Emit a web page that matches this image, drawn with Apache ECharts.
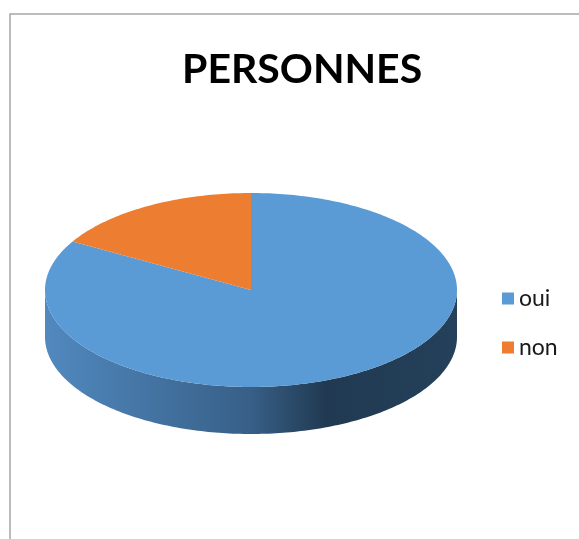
<!DOCTYPE html>
<html>
<head>
<meta charset="utf-8">
<script src="https://cdn.jsdelivr.net/npm/echarts@6/dist/echarts.min.js"></script>
<style>
  html, body { margin: 0; padding: 0; background: #fff; }
  #chart { width: 579px; height: 539px; }
</style>
</head>
<body>
<div id="chart"></div>
<script>
// === Données
const categories = ['oui', 'non'];
const values = [50, 10];

// === Style
const COLORS = ['#5b9bd5', '#ed7d31'];
const SIDE_STOPS = [
    [
        { offset: 0, color: '#5189bf' },
        { offset: 0.5, color: '#375f87' },
        { offset: 0.68, color: '#213a52' },
        { offset: 1, color: '#24405a' }
    ],
    [
        { offset: 0, color: '#d06d2a' },
        { offset: 0.5, color: '#a4541f' },
        { offset: 1, color: '#6e3814' }
    ]
];
const CX = 251, CY = 290, RX = 206, RY = 97, DEPTH = 47;

// point on the top ellipse, angle clockwise from 12 o'clock
function ellipsePoint(t, dy) {
    return [CX + RX * Math.sin(t), CY - RY * Math.cos(t) + (dy || 0)];
}

function arcPoints(s, e, dy) {
    const n = Math.max(2, Math.ceil((e - s) / (Math.PI / 180)));
    const pts = [];
    for (let j = 0; j <= n; j++) pts.push(ellipsePoint(s + (e - s) * j / n, dy));
    return pts;
}

// slice of a tilted pie: front side wall then top face
function renderPie3D(params, api) {
    const i = params.dataIndex;
    const total = values.reduce((a, b) => a + b, 0);
    let before = 0;
    for (let k = 0; k < i; k++) before += values[k];
    const a0 = before / total * 2 * Math.PI;
    const a1 = a0 + api.value(0) / total * 2 * Math.PI;

    const children = [];
    const s = Math.max(a0, Math.PI / 2);
    const e = Math.min(a1, 3 * Math.PI / 2);
    if (e > s) {
        const top = arcPoints(s, e, 0);
        const bottom = arcPoints(s, e, DEPTH).reverse();
        children.push({
            type: 'polygon',
            shape: { points: top.concat(bottom) },
            style: {
                fill: {
                    type: 'linear', x: CX - RX, y: 0, x2: CX + RX, y2: 0,
                    global: true, colorStops: SIDE_STOPS[i]
                }
            }
        });
    }
    children.push({
        type: 'polygon',
        shape: { points: [[CX, CY]].concat(arcPoints(a0, a1, 0)) },
        style: { fill: COLORS[i] }
    });
    return { type: 'group', children: children };
}

const chart = echarts.init(document.getElementById('chart'));

chart.setOption({
    animation: false,
    color: COLORS,
    title: {
        text: 'PERSONNES',
        left: 182,
        top: 49,
        padding: 0,
        textStyle: {
            fontFamily: 'Lato',
            fontWeight: 'bold',
            fontSize: 41,
            color: '#000'
        }
    },
    legend: {
        orient: 'vertical',
        left: 502,
        top: 287,
        padding: 0,
        itemWidth: 12,
        itemHeight: 12,
        itemGap: 26,
        icon: 'rect',
        data: categories,
        textStyle: {
            fontFamily: 'Lato',
            fontSize: 23,
            lineHeight: 23,
            color: '#1a1a1a'
        }
    },
    graphic: [{
        type: 'rect',
        shape: { x: 10, y: 14, width: 800, height: 800 },
        style: { fill: 'none', stroke: '#a6a6a6', lineWidth: 1.5 },
        silent: true
    }],
    series: [
        {
            name: 'PERSONNES',
            type: 'custom',
            coordinateSystem: 'none',
            renderItem: renderPie3D,
            data: values.map((v, i) => ({ name: categories[i], value: v })),
            silent: true
        },
        {
            // only feeds the legend
            name: 'legende',
            type: 'pie',
            radius: [0, 0],
            center: [-50, -50],
            label: { show: false },
            labelLine: { show: false },
            silent: true,
            data: values.map((v, i) => ({ name: categories[i], value: v }))
        }
    ]
});
</script>
</body>
</html>
